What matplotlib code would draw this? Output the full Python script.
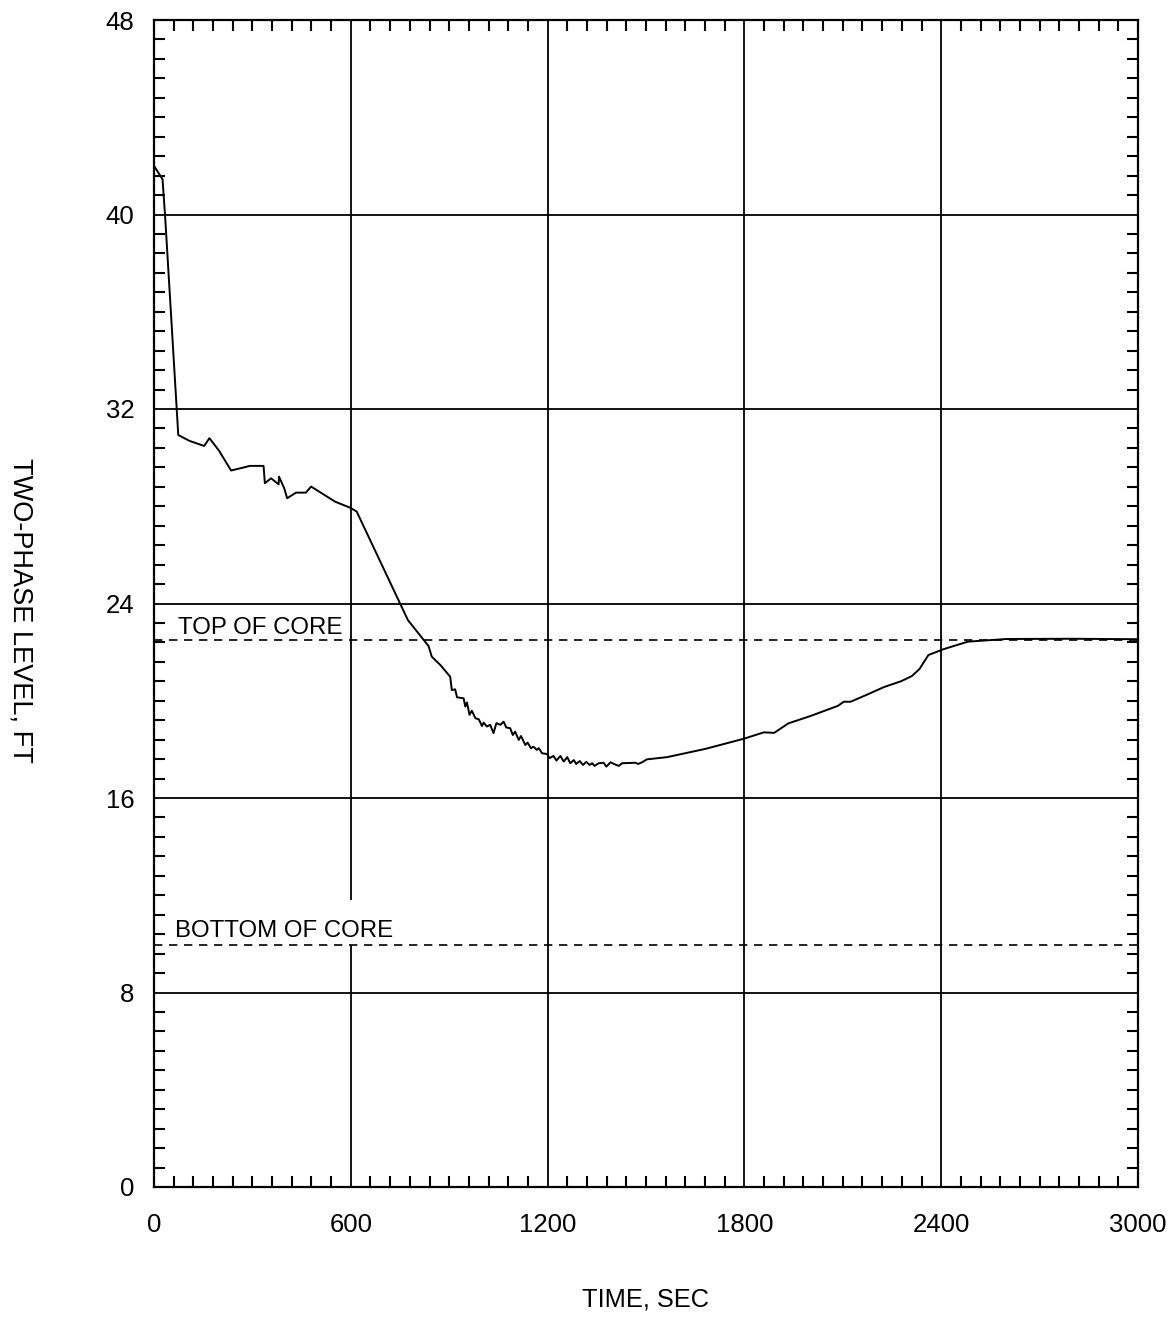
import matplotlib
matplotlib.use("Agg")
import matplotlib.pyplot as plt
from matplotlib.ticker import MultipleLocator

plt.rcParams['font.family'] = ['Liberation Sans', 'DejaVu Sans']

# two-phase mixture level vs time
time_s = [0, 26, 34, 74, 108, 153, 169, 198, 235, 293, 334, 338, 357, 380, 381,
          397, 406, 433, 463, 479, 552, 598, 618, 774, 837, 847, 873, 903, 908,
          918, 924, 944, 949, 954, 962, 969, 980, 990, 1000, 1005, 1015, 1025,
          1035, 1044, 1056, 1066, 1074, 1086, 1094, 1101, 1112, 1119, 1132, 1139,
          1149, 1157, 1167, 1173, 1183, 1198, 1206, 1218, 1227, 1239, 1249, 1260,
          1269, 1280, 1287, 1298, 1308, 1318, 1328, 1336, 1343, 1356, 1371, 1379,
          1392, 1404, 1417, 1427, 1468, 1476, 1488, 1503, 1564, 1681, 1799, 1859,
          1891, 1934, 2001, 2085, 2103, 2124, 2172, 2225, 2279, 2311, 2334, 2361,
          2407, 2481, 2599, 2800, 3000]
level_ft = [42.0, 41.45, 39.9, 30.93, 30.69, 30.48, 30.8, 30.29, 29.47, 29.66, 29.66,
            28.95, 29.15, 28.9, 29.22, 28.74, 28.33, 28.56, 28.56, 28.81, 28.19,
            27.94, 27.78, 23.32, 22.25, 21.81, 21.47, 20.99, 20.44, 20.47, 20.14,
            20.10, 19.76, 19.93, 19.42, 19.59, 19.28, 19.24, 18.96, 19.10, 18.94,
            19.01, 18.67, 19.08, 19.01, 19.14, 18.90, 18.87, 18.59, 18.73, 18.39,
            18.55, 18.18, 18.28, 18.05, 18.11, 17.98, 18.05, 17.84, 17.81, 17.64,
            17.73, 17.54, 17.73, 17.50, 17.68, 17.43, 17.56, 17.40, 17.52, 17.36,
            17.49, 17.36, 17.43, 17.32, 17.43, 17.45, 17.29, 17.47, 17.39, 17.32,
            17.43, 17.45, 17.40, 17.47, 17.59, 17.68, 18.02, 18.44, 18.70, 18.68,
            19.07, 19.37, 19.79, 19.96, 19.96, 20.24, 20.56, 20.81, 21.02, 21.31,
            21.88, 22.12, 22.43, 22.54, 22.55, 22.53]

top_of_core = 22.5
bottom_of_core = 9.95

x_major = [0, 600, 1200, 1800, 2400, 3000]
y_major = [0, 8, 16, 24, 32, 40, 48]

fig = plt.figure(figsize=(11.70, 13.17), dpi=100)
ax = fig.add_axes([154 / 1170, 130 / 1317, 984 / 1170, 1167 / 1317])

ax.set_xlim(0, 3000)
ax.set_ylim(0, 48)
ax.set_xticks(x_major)
ax.set_yticks(y_major)
ax.xaxis.set_minor_locator(MultipleLocator(60))
ax.yaxis.set_minor_locator(MultipleLocator(0.8))
ax.tick_params(which='both', direction='in', top=True, right=True,
               width=1.5, labelsize=18.5)
ax.tick_params(which='major', length=0)
ax.tick_params(which='minor', length=8)
ax.tick_params(axis='y', pad=14)
ax.tick_params(axis='x', pad=18.5)
for s in ax.spines.values():
    s.set_linewidth(1.6)

# grid lines (the 600 s line is broken around the bottom-of-core label)
for yv in y_major[1:-1]:
    ax.axhline(yv, color='black', lw=1.3, zorder=1)
for xv in x_major[2:-1]:
    ax.axvline(xv, color='black', lw=1.3, zorder=1)
ax.vlines(600, 0, bottom_of_core, color='black', lw=1.3, zorder=1)
ax.vlines(600, 11.8, 48, color='black', lw=1.3, zorder=1)

ax.axhline(top_of_core, color='black', lw=1.2, ls=(0, (5, 4)), zorder=2)
ax.axhline(bottom_of_core, color='black', lw=1.2, ls=(0, (5, 4)), zorder=2)
ax.text(73, 22.75, 'TOP OF CORE', fontsize=17.3, va='baseline', ha='left')
ax.text(64, 10.28, 'BOTTOM OF CORE', fontsize=17.3, va='baseline', ha='left')

ax.plot(time_s, level_ft, color='black', lw=1.4, zorder=3)

fig.text(645 / 1170, 1 - 1300 / 1317, 'TIME, SEC', fontsize=18.3,
         ha='center', va='center')
fig.text(20 / 1170, 1 - 610 / 1317, 'TWO-PHASE LEVEL, FT', fontsize=19.5,
         ha='center', va='center', rotation=270)

fig.savefig('out.png', dpi=100)
